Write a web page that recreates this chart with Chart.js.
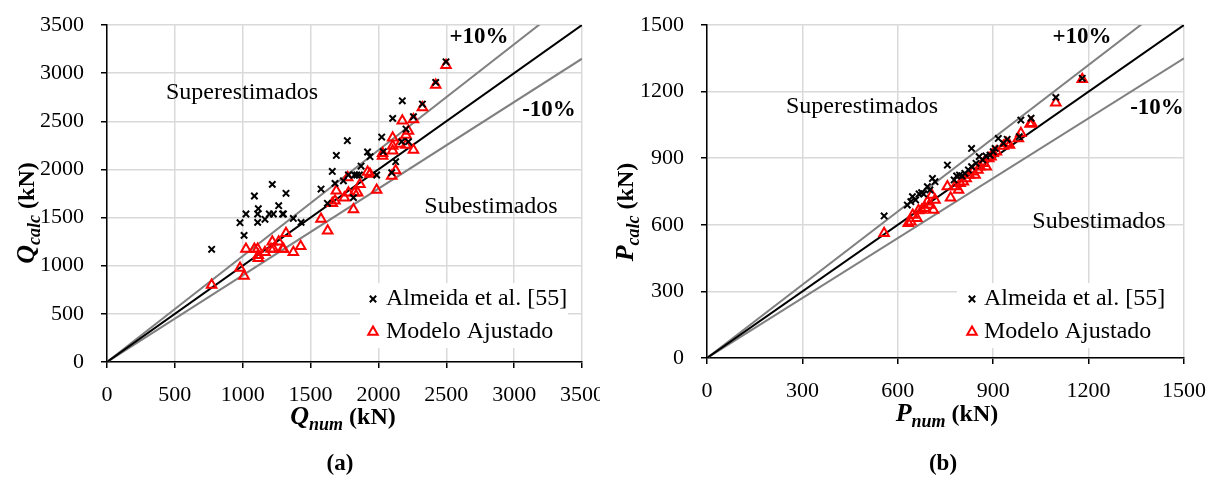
<!DOCTYPE html>
<html>
<head>
<meta charset="utf-8">
<script src="https://cdn.jsdelivr.net/npm/chart.js@4.4.0/dist/chart.umd.min.js"></script>
<style>
  body { margin: 0; background: #fff; }
  #wrap { position: relative; width: 1210px; height: 478px; overflow: hidden; }
  .box { position: absolute; top: 0; height: 478px; overflow: hidden; }
</style>
</head>
<body>
<div id="wrap">
  <div class="box" style="left:0;width:600px"><canvas id="chartA" width="605" height="478"></canvas></div>
  <div class="box" style="left:605px;width:605px"><canvas id="chartB" width="605" height="478"></canvas></div>
</div>
<script>
// ---- (a) shear Q ----
var almeidaQnum  = [771, 980, 1010, 1024, 1086, 1110, 1115, 1110, 1164, 1196, 1218, 1226, 1265, 1294, 1300, 1319, 1373, 1430, 1577, 1624, 1660, 1680, 1690, 1742, 1771, 1779, 1816, 1823, 1840, 1860, 1872, 1920, 1938, 1987, 2024, 2036, 2098, 2105, 2127, 2176, 2171, 2203, 2221, 2258, 2324, 2422, 2498];
var almeidaQcalc = [1170, 1447, 1315, 1537, 1724, 1450, 1592, 1537, 1482, 1537, 1845, 1537, 1623, 1537, 1537, 1752, 1491, 1450, 1796, 1648, 1979, 1855, 2145, 1882, 2298, 1942, 1707, 1942, 1942, 1942, 2035, 2181, 2132, 1942, 2336, 2184, 1966, 2530, 2080, 2713, 2288, 2419, 2288, 2547, 2679, 2904, 3118];
var ajustQnum  = [771, 980, 1010, 1024, 1086, 1110, 1115, 1115, 1164, 1208, 1218, 1226, 1265, 1294, 1300, 1319, 1373, 1427, 1577, 1626, 1660, 1680, 1690, 1749, 1773, 1779, 1816, 1823, 1847, 1864, 1920, 1938, 1987, 2031, 2031, 2098, 2105, 2105, 2105, 2127, 2159, 2176, 2203, 2203, 2221, 2258, 2258, 2324, 2422, 2498];
var ajustQcalc = [800, 976, 893, 1173, 1173, 1173, 1108, 1077, 1139, 1173, 1249, 1173, 1249, 1173, 1173, 1336, 1139, 1201, 1485, 1364, 1648, 1676, 1779, 1707, 1915, 1759, 1585, 1759, 1759, 1845, 1973, 1952, 1786, 2139, 2167, 1931, 2329, 2243, 2194, 1990, 2264, 2506, 2357, 2253, 2399, 2519, 2201, 2644, 2876, 3081];
var ticksQ = [0, 500, 1000, 1500, 2000, 2500, 3000, 3500];

// ---- (b) load P ----
var almeidaPnum  = [557, 630, 641, 646, 656, 667, 675, 681, 693, 701, 709, 717, 756, 777, 785, 794, 802, 811, 822, 832, 832, 846, 856, 867, 877, 890, 900, 906, 916, 932, 944, 982, 987, 1019, 1097, 1180];
var almeidaPcalc = [640, 689, 704, 727, 712, 739, 745, 739, 772, 757, 809, 794, 869, 802, 820, 824, 820, 832, 847, 944, 862, 877, 907, 892, 910, 914, 929, 944, 989, 967, 985, 997, 1072, 1080, 1174, 1260];
var ajustPnum  = [557, 633, 641, 647, 660, 665, 675, 686, 693, 699, 707, 712, 717, 756, 766, 780, 791, 796, 806, 815, 825, 836, 843, 852, 859, 870, 878, 886, 893, 900, 910, 932, 941, 951, 979, 987, 1016, 1021, 1097, 1180];
var ajustPcalc = [562, 607, 614, 644, 629, 664, 667, 674, 704, 689, 734, 667, 712, 772, 722, 772, 757, 787, 794, 809, 824, 839, 824, 847, 862, 877, 862, 899, 907, 922, 929, 955, 967, 959, 989, 1012, 1054, 1057, 1150, 1256];
var ticksP = [0, 300, 600, 900, 1200, 1500];

var legendLabels = ["Almeida et al. [55]", "Modelo Ajustado"];

function pts(xs, ys) {
  return xs.map(function (x, i) { return { x: x, y: ys[i] }; });
}

var serif = "'Liberation Serif', 'Times New Roman', serif";

function drawParts(ctx, parts, x, y, angle) {
  ctx.save();
  ctx.translate(x, y);
  ctx.rotate(angle);
  var total = 0;
  parts.forEach(function (p) { ctx.font = p.font; p.w = ctx.measureText(p.t).width; total += p.w; });
  var cx = -total / 2;
  ctx.textAlign = "left";
  ctx.textBaseline = "alphabetic";
  ctx.fillStyle = "#000";
  parts.forEach(function (p) { ctx.font = p.font; ctx.fillText(p.t, cx, p.dy || 0); cx += p.w; });
  ctx.restore();
}

function axisTitle(letter, sub) {
  return [
    { t: letter, font: "italic bold 26px " + serif },
    { t: sub, font: "italic bold 18px " + serif, dy: 6 },
    { t: " (kN)", font: "bold 24px " + serif }
  ];
}

function decoPlugin(d) {
  return {
    id: "deco",
    afterDraw: function (chart) {
      var ctx = chart.ctx;
      // annotations
      d.notes.forEach(function (n) {
        ctx.save();
        ctx.font = n.font;
        ctx.fillStyle = "#000";
        ctx.textAlign = "center";
        ctx.textBaseline = "middle";
        ctx.fillText(n.t, n.x, n.y);
        ctx.restore();
      });
      // legend
      var L = d.legend;
      ctx.save();
      ctx.fillStyle = "#fff";
      ctx.fillRect(L.x0, L.y0, L.x1 - L.x0, L.y1 - L.y0);
      var ds = chart.data.datasets;
      [0, 1].forEach(function (i) {
        var s = ds[i];
        ctx.strokeStyle = s.borderColor;
        ctx.fillStyle = "rgba(0,0,0,0)";
        ctx.lineWidth = s.borderWidth;
        Chart.helpers.drawPoint(ctx, { pointStyle: s.pointStyle, radius: s.radius, borderWidth: s.borderWidth, rotation: 0 }, L.mx, L.rows[i]);
        ctx.fillStyle = "#000";
        ctx.font = "24px " + serif;
        ctx.textAlign = "left";
        ctx.textBaseline = "middle";
        ctx.fillText(s.label, L.tx, L.rows[i]);
      });
      ctx.restore();
      // axis titles and caption
      drawParts(ctx, d.xTitle, d.xt[0], d.xt[1], 0);
      drawParts(ctx, d.yTitle, d.yt[0], d.yt[1], -Math.PI / 2);
      drawParts(ctx, [{ t: d.caption, font: "bold 23px " + serif }], d.cap[0], d.cap[1], 0);
    }
  };
}

function buildChart(id, o) {
  var axisCommon = function (ticks, fit) {
    return {
      type: "linear",
      min: ticks[0],
      max: ticks[ticks.length - 1],
      ticks: {
        stepSize: ticks[1] - ticks[0],
        font: { family: serif, size: 22 },
        color: "#000",
        padding: o.tickPad,
        maxRotation: 0,
        autoSkip: false,
        callback: function (v) { return String(v); }
      },
      grid: { color: "#d9d9d9", lineWidth: 1.5, tickColor: "#000", tickLength: 6 },
      border: { color: "#000", width: 1.5 },
      afterFit: fit
    };
  };
  var xAxis = axisCommon(o.ticks, function (s) { s.height = o.xHeight; s.paddingLeft = 0; s.paddingRight = 0; });
  var yAxis = axisCommon(o.ticks, function (s) { s.width = o.yWidth; s.paddingTop = 0; s.paddingBottom = 0; });
  yAxis.ticks.padding = o.yTickPad;

  return new Chart(document.getElementById(id), {
    type: "scatter",
    data: {
      datasets: [
        { label: legendLabels[0], data: o.black, pointStyle: "crossRot", radius: 4.5, borderColor: "#000", backgroundColor: "#000", borderWidth: 2, order: 1 },
        { label: legendLabels[1], data: o.red, pointStyle: "triangle", radius: 5.5, borderColor: "#ff0000", backgroundColor: "rgba(255,255,255,0)", borderWidth: 2, order: 2 },
        { type: "line", label: "1:1", data: o.unity, borderColor: "#000", borderWidth: 2, pointRadius: 0, fill: false, order: 3 },
        { type: "line", label: "+10%", data: o.upper, borderColor: "#808080", borderWidth: 2, pointRadius: 0, fill: false, order: 4 },
        { type: "line", label: "-10%", data: o.lower, borderColor: "#808080", borderWidth: 2, pointRadius: 0, fill: false, order: 5 }
      ]
    },
    options: {
      responsive: false,
      animation: false,
      devicePixelRatio: 1,
      layout: { padding: { left: 0, right: o.padRight, top: 25, bottom: 0 } },
      plugins: { legend: { display: false }, tooltip: { enabled: false } },
      scales: { x: xAxis, y: yAxis }
    },
    plugins: [decoPlugin(o.deco)]
  });
}

buildChart("chartA", {
  ticks: ticksQ,
  black: pts(almeidaQnum, almeidaQcalc),
  red: pts(ajustQnum, ajustQcalc),
  unity: [{ x: 0, y: 0 }, { x: 3500, y: 3500 }],
  upper: [{ x: 0, y: 0 }, { x: 3500, y: 3850 }],
  lower: [{ x: 0, y: 0 }, { x: 3500, y: 3150 }],
  padRight: 23, xHeight: 116, yWidth: 107, tickPad: 14, yTickPad: 17,
  deco: {
    notes: [
      { t: "Superestimados", x: 242, y: 93, font: "24px " + serif },
      { t: "Subestimados", x: 491, y: 207, font: "24px " + serif },
      { t: "+10%", x: 479, y: 37, font: "bold 23px " + serif },
      { t: "-10%", x: 549, y: 110, font: "bold 23px " + serif }
    ],
    legend: { x0: 360, x1: 568, y0: 283, y1: 348, mx: 373, tx: 386, rows: [299, 332] },
    xTitle: axisTitle("Q", "num"), xt: [343, 424],
    yTitle: axisTitle("Q", "calc"), yt: [34, 213],
    caption: "(a)", cap: [340, 470]
  }
});

buildChart("chartB", {
  ticks: ticksP,
  black: pts(almeidaPnum, almeidaPcalc),
  red: pts(ajustPnum, ajustPcalc),
  unity: [{ x: 0, y: 0 }, { x: 1500, y: 1500 }],
  upper: [{ x: 0, y: 0 }, { x: 1500, y: 1650 }],
  lower: [{ x: 0, y: 0 }, { x: 1500, y: 1350 }],
  padRight: 26, xHeight: 120, yWidth: 102, tickPad: 14, yTickPad: 17,
  deco: {
    notes: [
      { t: "Superestimados", x: 257, y: 107, font: "24px " + serif },
      { t: "Subestimados", x: 494, y: 222, font: "24px " + serif },
      { t: "+10%", x: 477, y: 37, font: "bold 23px " + serif },
      { t: "-10%", x: 552, y: 108, font: "bold 23px " + serif }
    ],
    legend: { x0: 352, x1: 578, y0: 283, y1: 348, mx: 367, tx: 379, rows: [299, 332] },
    xTitle: axisTitle("P", "num"), xt: [342, 421],
    yTitle: axisTitle("P", "calc"), yt: [28, 212],
    caption: "(b)", cap: [338, 470]
  }
});
</script>
</body>
</html>
